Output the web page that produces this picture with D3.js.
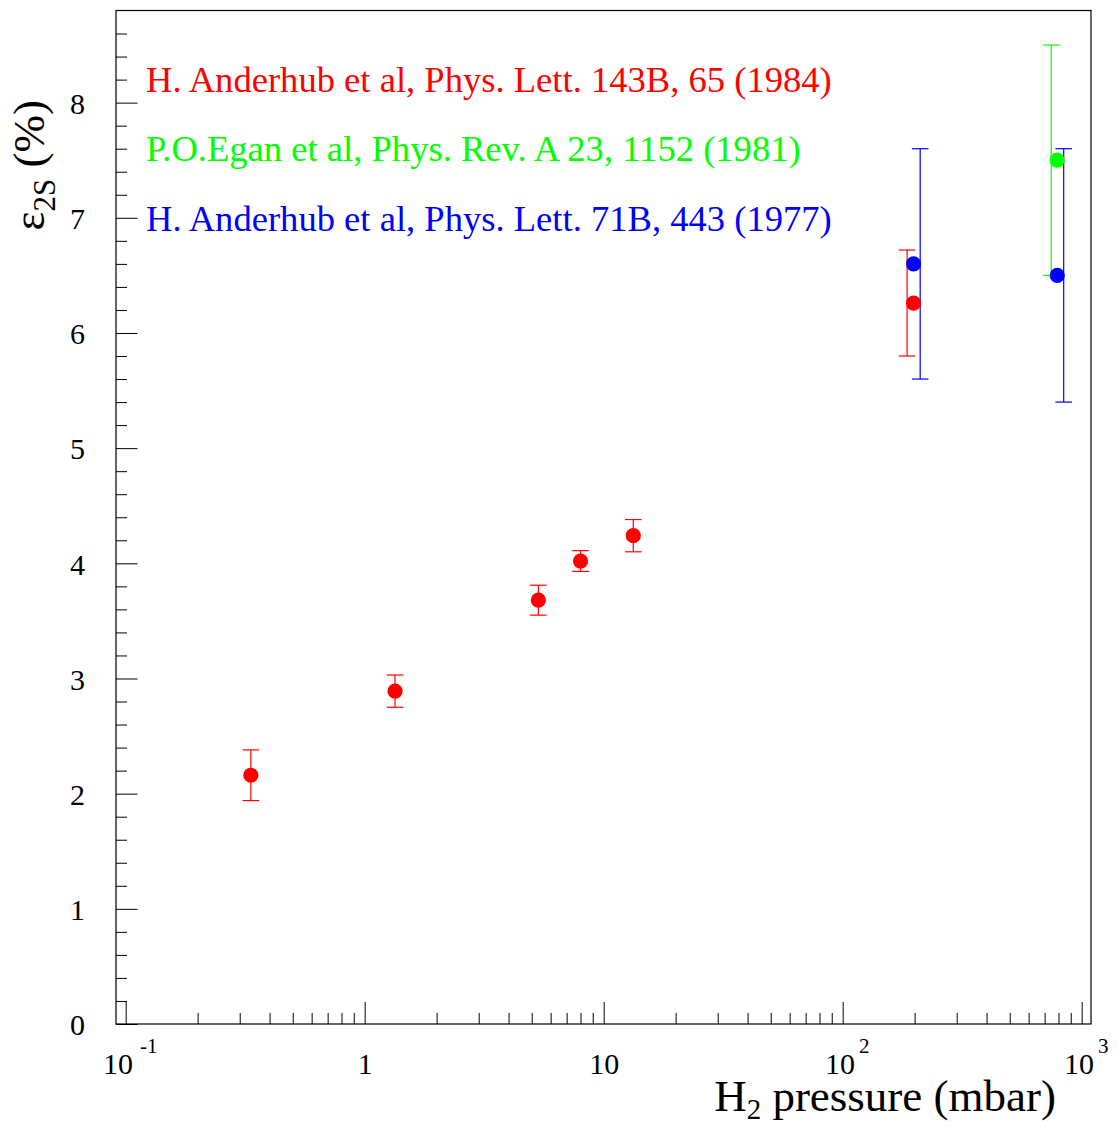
<!DOCTYPE html>
<html>
<head>
<meta charset="utf-8">
<script src="https://cdn.jsdelivr.net/npm/d3@7"></script>
<style>
  body { margin: 0; background: #fff; }
  text { font-family: "Liberation Serif", "DejaVu Serif", serif; }
</style>
</head>
<body>
<svg id="chart" width="1117" height="1127"></svg>
<script>
// H. Anderhub et al, Phys. Lett. 143B, 65 (1984)
const pressure1984 = [0.334, 1.34, 5.33, 8.0, 13.3, 198];
const eff1984      = [2.16, 2.89, 3.68, 4.02, 4.24, 6.26];
const err1984      = [0.22, 0.14, 0.13, 0.09, 0.14, 0.46];
const barP1984     = [0.334, 1.34, 5.33, 8.0, 13.3, 186];

// P.O.Egan et al, Phys. Rev. A 23, 1152 (1981)
const pressure1981 = [790];
const eff1981      = [7.5];
const err1981      = [1.0];
const barP1981     = [746];

// H. Anderhub et al, Phys. Lett. 71B, 443 (1977)
const pressure1977 = [198, 790];
const eff1977      = [6.6, 6.5];
const err1977      = [1.0, 1.1];
const barP1977     = [211, 841];

const legendLabels = [
  "H. Anderhub et al, Phys. Lett. 143B, 65 (1984)",
  "P.O.Egan et al, Phys. Rev. A 23, 1152 (1981)",
  "H. Anderhub et al, Phys. Lett. 71B, 443 (1977)"
];
const seriesColors = ["#ff0000", "#00ff00", "#0000ff"];

const xMajorTicks = [0.1, 1, 10, 100, 1000];
const xTickLabels = [["10", "-1"], ["1", ""], ["10", ""], ["10", "2"], ["10", "3"]];
const yMajorTicks = [0, 1, 2, 3, 4, 5, 6, 7, 8];

function makeSeries(p, v, e, bp, i) {
  return p.map((d, k) => ({ p: d, v: v[k], e: e[k], bp: bp[k], color: seriesColors[i] }));
}
const series = [
  makeSeries(pressure1984, eff1984, err1984, barP1984, 0),
  makeSeries(pressure1981, eff1981, err1981, barP1981, 1),
  makeSeries(pressure1977, eff1977, err1977, barP1977, 2)
];

const svg = d3.select("#chart");
svg.append("rect").attr("width", 1117).attr("height", 1127).attr("fill", "#fff");

const L = 116, R = 1091, T = 10.5, B = 1024;
const x = d3.scaleLog().domain([0.0911, 1094]).range([L, R]);
const y = d3.scaleLinear().domain([0, 8.8]).range([B, T]);

// minor x ticks: 2..9 in every decade inside the range
const xMinor = [];
for (let dec = -2; dec <= 3; dec++) {
  for (let m = 2; m <= 9; m++) {
    const v = m * Math.pow(10, dec);
    if (v > x.domain()[0] && v < x.domain()[1]) xMinor.push(v);
  }
}
const yMinor = d3.range(0, 44).map(i => +(i * 0.2).toFixed(1)).filter(v => Math.abs(v - Math.round(v)) > 1e-6);

const gx = svg.append("g").attr("transform", `translate(0,${B})`);
gx.call(d3.axisBottom(x).tickValues(xMinor).tickSizeInner(-11).tickSizeOuter(0).tickFormat(""));
gx.select(".domain").remove();
const gxM = svg.append("g").attr("transform", `translate(0,${B})`);
gxM.call(d3.axisBottom(x).tickValues(xMajorTicks).tickSizeInner(-22).tickSizeOuter(0).tickFormat(""));
gxM.select(".domain").remove();
gxM.selectAll(".tick").each(function (d, i) {
  const lab = xTickLabels[i];
  const t = d3.select(this).append("text")
    .attr("fill", "#000")
    .attr("y", 50)
    .attr("font-size", 30)
    .attr("text-anchor", "middle")
    .attr("dx", lab[1] ? 4 : 0);
  t.append("tspan").text(lab[0]);
  if (lab[1]) {
    t.append("tspan").attr("font-size", 21).attr("dx", lab[1] === "-1" ? 7 : 4).attr("dy", -21).text(lab[1]);
  }
});

const gy = svg.append("g").attr("transform", `translate(${L},0)`);
gy.call(d3.axisLeft(y).tickValues(yMinor).tickSizeInner(-11).tickSizeOuter(0).tickFormat(""));
gy.select(".domain").remove();
const gyM = svg.append("g").attr("transform", `translate(${L},0)`);
gyM.call(d3.axisLeft(y).tickValues(yMajorTicks).tickSizeInner(-21.5).tickSizeOuter(0).tickPadding(31)
  .tickFormat(d3.format("d")));
gyM.select(".domain").remove();
gyM.selectAll(".tick text").attr("font-size", 30).attr("font-family", "Liberation Serif").attr("dy", "0.36em");

svg.selectAll(".tick line").attr("stroke", "#000").attr("stroke-width", 1);

// frame
svg.append("rect").attr("x", L).attr("y", T).attr("width", R - L).attr("height", B - T)
  .attr("fill", "none").attr("stroke", "#000").attr("stroke-width", 1.2);

// error bars
const cap = 8.3;
const plot = svg.append("g");
series.forEach(s => {
  s.forEach(d => {
    const bx = x(d.bp);
    const g = plot.append("g").attr("stroke", d.color).attr("stroke-width", 1.2).attr("fill", "none");
    g.append("line").attr("x1", bx).attr("x2", bx).attr("y1", y(d.v + d.e)).attr("y2", y(d.v - d.e));
    g.append("line").attr("x1", bx - cap).attr("x2", bx + cap).attr("y1", y(d.v + d.e)).attr("y2", y(d.v + d.e));
    g.append("line").attr("x1", bx - cap).attr("x2", bx + cap).attr("y1", y(d.v - d.e)).attr("y2", y(d.v - d.e));
  });
});
// markers
series.forEach(s => {
  plot.selectAll(null).data(s).enter().append("circle")
    .attr("cx", d => x(d.p)).attr("cy", d => y(d.v)).attr("r", 7.6)
    .attr("fill", d => d.color);
});

// legend texts
legendLabels.forEach((t, i) => {
  svg.append("text").attr("x", 146).attr("y", 91.5 + i * 69.5)
    .attr("font-size", 36.6).attr("fill", seriesColors[i]).text(t);
});

// x title
const xt = svg.append("text").attr("x", 1056).attr("y", 1111).attr("text-anchor", "end").attr("font-size", 45);
xt.append("tspan").text("H");
xt.append("tspan").attr("font-size", 29).attr("dy", 8).text("2");
xt.append("tspan").attr("dy", -8).text(" pressure (mbar)");

// y title
const yt = svg.append("text").attr("transform", "translate(44,100) rotate(-90)")
  .attr("text-anchor", "end").attr("font-size", 45);
yt.append("tspan").text("ε");
yt.append("tspan").attr("font-size", 31).attr("dy", 11).text("2S");
yt.append("tspan").attr("dy", -11).text(" (%)");
</script>
</body>
</html>
